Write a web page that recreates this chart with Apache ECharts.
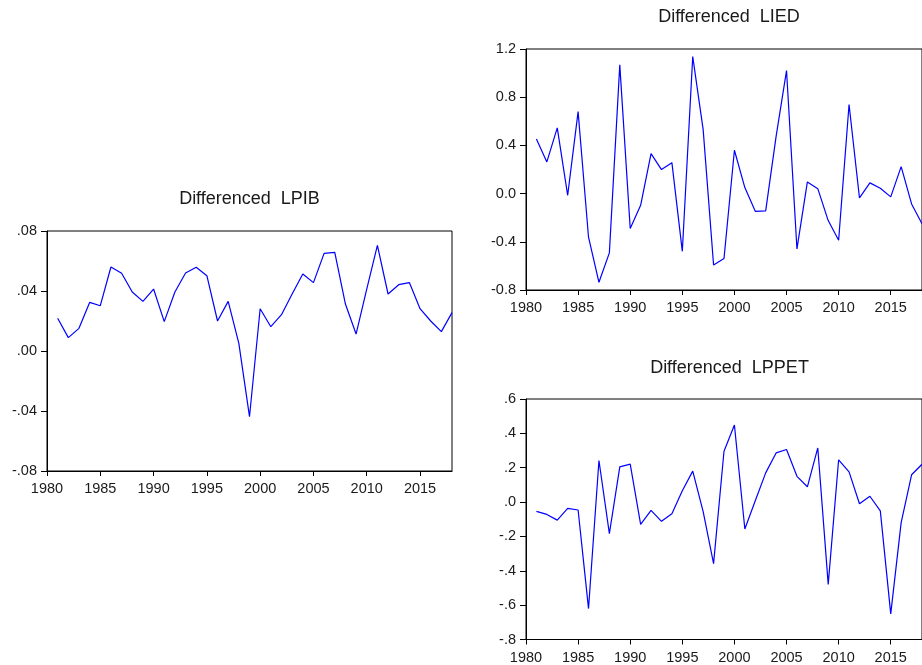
<!DOCTYPE html>
<html>
<head>
<meta charset="utf-8">
<script src="https://cdn.jsdelivr.net/npm/echarts@6/dist/echarts.min.js"></script>
<style>
html,body{margin:0;padding:0;background:#fff;overflow:hidden;}
#c{width:922px;height:665px;}
</style>
</head>
<body>
<div id="c"></div>
<script>
// ---- data ----
const years = [1981,1982,1983,1984,1985,1986,1987,1988,1989,1990,
               1991,1992,1993,1994,1995,1996,1997,1998,1999,2000,
               2001,2002,2003,2004,2005,2006,2007,2008,2009,2010,
               2011,2012,2013,2014,2015,2016,2017,2018];
const xTickYears = [1980,1985,1990,1995,2000,2005,2010,2015];
const xTickLabels = ['1980','1985','1990','1995','2000','2005','2010','2015'];

const titleLPIB = 'Differenced  LPIB';
const titleLIED = 'Differenced  LIED';
const titleLPPET = 'Differenced  LPPET';

const dLPIB = [0.0218,0.0089,0.0151,0.0324,0.0302,0.0560,0.0518,0.0393,0.0331,0.0413,
               0.0196,0.0393,0.0520,0.0558,0.0502,0.0200,0.0331,0.0051,-0.0438,0.0282,
               0.0162,0.0242,0.0380,0.0513,0.0456,0.0651,0.0658,0.0313,0.0113,0.0413,
               0.0704,0.0380,0.0442,0.0456,0.0282,0.0200,0.0129,0.0256];
const dLIED = [0.454,0.263,0.545,-0.014,0.680,-0.362,-0.736,-0.492,1.068,-0.290,
               -0.097,0.332,0.199,0.257,-0.479,1.137,0.531,-0.592,-0.539,0.360,
               0.050,-0.147,-0.144,0.475,1.021,-0.459,0.097,0.041,-0.224,-0.387,
               0.739,-0.036,0.089,0.044,-0.027,0.224,-0.086,-0.250];
const dLPPET = [-0.054,-0.072,-0.105,-0.037,-0.046,-0.620,0.242,-0.184,0.205,0.221,
                -0.130,-0.048,-0.112,-0.068,0.066,0.180,-0.056,-0.358,0.296,0.449,
                -0.157,0.008,0.170,0.286,0.306,0.150,0.089,0.315,-0.479,0.246,
                0.176,-0.010,0.034,-0.051,-0.651,-0.120,0.159,0.220];

const lpibTicks = ['-.08','-.04','.00','.04','.08'];
const liedTicks = ['-0.8','-0.4','0.0','0.4','0.8','1.2'];
const lppetTicks = ['-.8','-.6','-.4','-.2','.0','.2','.4','.6'];

// ---- chart ----
const FONT = "'Liberation Sans', Arial, sans-serif";
const panels = [
  {title: titleLPIB, data: dLPIB, ticks: lpibTicks, min: -0.08, max: 0.08, interval: 0.04,
   grid: {left: 47, top: 231, width: 405, height: 240}, tx: 249.5, ty: 199},
  {title: titleLIED, data: dLIED, ticks: liedTicks, min: -0.8, max: 1.2, interval: 0.4,
   grid: {left: 526, top: 49, width: 404, height: 241}, tx: 729, ty: 17},
  {title: titleLPPET, data: dLPPET, ticks: lppetTicks, min: -0.8, max: 0.6, interval: 0.2,
   grid: {left: 526, top: 399, width: 404, height: 241}, tx: 729.5, ty: 368}
];

const chart = echarts.init(document.getElementById('c'), null, {renderer: 'canvas'});
const option = {
  animation: false,
  backgroundColor: '#ffffff',
  textStyle: {fontFamily: FONT},
  grid: [], xAxis: [], yAxis: [], series: [], graphic: []
};
panels.forEach((p, i) => {
  option.grid.push(Object.assign({show: true, borderColor: '#000', borderWidth: 1,
                                  backgroundColor: 'transparent', containLabel: false}, p.grid));
  option.xAxis.push({
    type: 'value', gridIndex: i, min: 1980, max: 2018, interval: 5,
    splitLine: {show: false},
    axisLine: {show: true, onZero: false, lineStyle: {color: '#000', width: 1}},
    axisTick: {show: true, inside: false, length: 5, customValues: xTickYears,
               lineStyle: {color: '#000'}},
    axisLabel: {show: true, margin: 10.5, color: '#1a1a1a', fontSize: 14.5, fontFamily: FONT,
                customValues: xTickYears,
                formatter: v => { const k = xTickYears.indexOf(Math.round(v)); return k >= 0 ? xTickLabels[k] : ''; }}
  });
  option.yAxis.push({
    type: 'value', gridIndex: i, min: p.min, max: p.max, interval: p.interval,
    splitLine: {show: false},
    axisLine: {show: true, onZero: false, lineStyle: {color: '#000', width: 1}},
    axisTick: {show: true, inside: false, length: 6, lineStyle: {color: '#000'}},
    axisLabel: {show: true, margin: 10, color: '#1a1a1a', fontSize: 14.5, fontFamily: FONT,
                formatter: v => { const k = Math.round((v - p.min) / p.interval); return p.ticks[k] || ''; }}
  });
  option.series.push({
    type: 'line', xAxisIndex: i, yAxisIndex: i,
    data: years.map((y, j) => [y, p.data[j]]),
    showSymbol: false, symbol: 'none', clip: false,
    lineStyle: {color: '#0000ff', width: 1.2},
    itemStyle: {color: '#0000ff'}
  });
  option.graphic.push({
    type: 'text', x: p.tx, y: p.ty, silent: true,
    style: {text: p.title, fill: '#1a1a1a', font: '18px ' + FONT, align: 'center', verticalAlign: 'middle'}
  });
});
chart.setOption(option);
</script>
</body>
</html>
